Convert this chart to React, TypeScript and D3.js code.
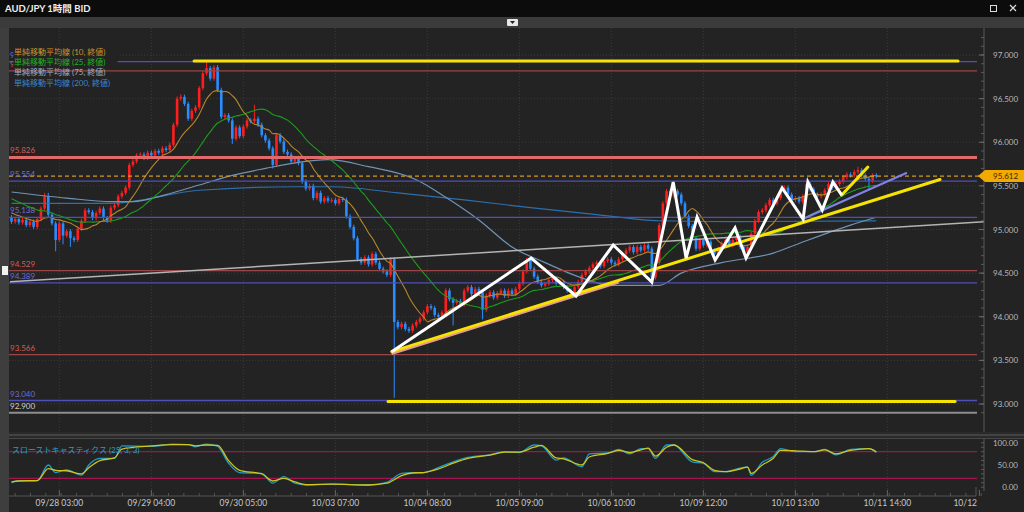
import React from 'react';
import * as d3 from 'd3';

// hourly closes (index 0 = first visible candle)
const closes = [
  95.09, 95.12, 95.08, 95.11, 95.05, 95.09, 95.03, 95.12, 95.24, 95.38,
  95.17, 95.07, 94.88, 95.07, 94.93, 94.98, 94.90, 94.88, 95.01, 95.10,
  95.22, 95.20, 95.13, 95.19, 95.24, 95.13, 95.10, 95.25, 95.28, 95.38,
  95.42, 95.48, 95.74, 95.78, 95.85, 95.86, 95.82, 95.88, 95.85, 95.90,
  95.88, 95.93, 95.91, 95.97, 96.20, 96.50, 96.52, 96.44, 96.27, 96.36,
  96.40, 96.62, 96.79, 96.85, 96.73, 96.86, 96.60, 96.29, 96.31, 96.25,
  96.04, 96.17, 96.07, 96.18, 96.25, 96.24, 96.27, 96.20, 96.08, 96.02,
  95.93, 95.74, 96.08, 96.01, 95.89, 95.86, 95.78, 95.82, 95.76, 95.55,
  95.47, 95.50, 95.36, 95.42, 95.32, 95.36, 95.33, 95.34, 95.30, 95.35,
  95.34, 95.15, 95.03, 94.90, 94.66, 94.62, 94.68, 94.60, 94.72, 94.62,
  94.55, 94.52, 94.48, 94.66, 93.94, 93.88, 93.92, 93.86, 93.84, 93.90,
  93.94, 93.98, 94.05, 94.12, 94.10, 94.02, 94.00, 94.05, 94.30, 94.20,
  94.16, 94.18, 94.14, 94.30, 94.34, 94.26, 94.32, 94.28, 94.08, 94.24,
  94.28, 94.22, 94.27, 94.30, 94.24, 94.30, 94.26, 94.32, 94.38, 94.52,
  94.65, 94.55, 94.46, 94.40, 94.36, 94.38, 94.42, 94.44, 94.38, 94.40,
  94.34, 94.30, 94.28, 94.34, 94.40, 94.48, 94.52, 94.56, 94.60, 94.62,
  94.58, 94.64, 94.66, 94.62, 94.60, 94.66, 94.72, 94.76, 94.80, 94.74,
  94.80, 94.76, 94.82, 94.78, 94.45, 94.62, 95.05, 95.30, 95.44, 95.38,
  95.44, 95.40, 95.30, 95.15, 95.04, 94.90, 94.78, 94.88, 94.82, 94.86,
  94.76, 94.72, 94.78, 94.84, 94.88, 94.82, 94.88, 94.92, 94.80, 94.74,
  94.80, 94.95, 95.10, 95.20, 95.22, 95.28, 95.34, 95.30, 95.36, 95.44,
  95.48, 95.40, 95.34, 95.36, 95.32, 95.38, 95.52, 95.46, 95.40, 95.38,
  95.40, 95.45, 95.52, 95.48, 95.52, 95.55, 95.60, 95.63, 95.62, 95.66,
  95.68, 95.62, 95.58, 95.56, 95.62, 95.612,
];

// estimated closes before the visible range (only used to seed the short averages)
const priorCloses = [
  95.62, 95.58, 95.55, 95.60, 95.52, 95.48, 95.50, 95.44, 95.46, 95.40,
  95.42, 95.36, 95.38, 95.30, 95.34, 95.28, 95.24, 95.26, 95.20, 95.22,
  95.16, 95.18, 95.12, 95.14,
];

// candles with a visibly long wick: [index, price]
const highWicks = [[9, 95.42], [10, 95.42], [46, 96.55], [53, 96.93], [66, 96.43], [230, 95.72]];
const lowWicks = [
  [12, 94.75], [14, 94.83], [16, 94.8], [60, 95.98], [71, 95.7], [104, 93.07],
  [120, 93.9], [128, 93.97], [174, 94.34], [233, 95.45],
];

// long averages read as samples
const sma75Idx = [0, 15, 27, 33, 42, 51, 60, 69, 78, 86, 97, 110, 118, 127, 136, 145, 154, 163, 176, 182, 193, 207, 214, 228, 235];
const sma75Val = [95.43, 95.36, 95.32, 95.32, 95.4, 95.51, 95.62, 95.7, 95.77, 95.8, 95.72, 95.57, 95.37, 95.11, 94.8, 94.62, 94.46, 94.36, 94.36, 94.5, 94.62, 94.73, 94.84, 95.05, 95.14];
const sma200Idx = [0, 27, 51, 78, 87, 105, 123, 141, 159, 176, 198, 235];
const sma200Val = [95.3, 95.3, 95.45, 95.49, 95.49, 95.42, 95.34, 95.25, 95.17, 95.1, 95.09, 95.1];

// slow stochastics (25,3,3)
const stochIdx = [0, 2, 7, 10, 12, 15, 19, 21, 24, 28, 30, 38, 44, 48, 50, 53, 56, 59, 62, 68, 71, 74, 77, 80, 87, 97, 102, 106, 109, 112, 116, 120, 124, 130, 134, 138, 142, 144, 148, 150, 155, 157, 162, 165, 168, 171, 173, 175, 178, 180, 185, 188, 191, 194, 198, 200, 201, 204, 207, 209, 213, 218, 221, 224, 228, 233, 235];
const stochK = [10, 15, 15, 50, 33, 39, 27, 50, 65, 65, 93, 92, 97, 96, 91, 97, 92, 54, 33, 31, 9, 24, 9, 5, 7, 5, 11, 31, 33, 33, 44, 57, 67, 73, 80, 78, 95, 93, 61, 66, 46, 75, 77, 85, 75, 87, 87, 65, 95, 95, 57, 54, 35, 35, 43, 46, 27, 56, 69, 87, 80, 80, 85, 73, 85, 87, 78];
const stochD = [12, 14, 15, 42, 38, 37, 30, 44, 60, 66, 86, 93, 96, 96, 93, 95, 94, 60, 38, 30, 14, 20, 12, 6, 7, 5, 9, 26, 32, 33, 41, 54, 65, 72, 79, 79, 90, 94, 66, 64, 50, 68, 76, 83, 78, 84, 88, 70, 90, 95, 62, 55, 38, 35, 41, 45, 31, 50, 65, 83, 82, 80, 84, 75, 83, 87, 80];
const stochLevels = [80, 20];
const stochTicks = [100, 50, 0];

// horizontal levels
const redLevels = [96.817, 95.826, 94.529, 93.566];
const blueLevels = [96.923, 95.554, 95.138, 94.389, 93.04];
const grayLevels = [92.9];
const resistance = 95.826;
const lastPrice = 95.612;

const priceTicks = [93, 93.5, 94, 94.5, 95, 95.5, 96, 96.5, 97];
const dateIdx = [13, 38, 63, 88, 113, 138, 163, 188, 213, 238, 263];
const dateLabels = ['09/28 03:00', '09/29 04:00', '09/30 05:00', '10/03 07:00', '10/04 08:00', '10/05 09:00', '10/06 10:00', '10/09 12:00', '10/10 13:00', '10/11 14:00', '10/12'];

// hand-drawn trendlines [index, price]
const yellowLines = [
  [[49.6, 96.93], [257.2, 96.93]],
  [[102.3, 93.03], [256.4, 93.03]],
  [[103.3, 93.6], [252.3, 95.573]],
  [[225.6, 95.395], [232.7, 95.716]],
];
const pinkTrend = [[103.3, 93.575], [165, 94.392]];
const purpleTrend = [[215, 95.12], [243.3, 95.65]];
const grayTrend = [[-0.4, 94.4], [264.5, 95.09]];
const zigzag = [
  [103.3, 93.6], [141.2, 94.673], [153.4, 94.238], [163.5, 94.822], [174.0, 94.398],
  [179.8, 95.544], [183.3, 94.673], [186.3, 95.143], [191.2, 94.65], [196.6, 95.017],
  [199.6, 94.673], [209.4, 95.476], [215.1, 95.12], [216.4, 95.544], [220.3, 95.223],
  [223.2, 95.544], [225.6, 95.395],
];

const legendItems = ['単純移動平均線 (10, 終値)', '単純移動平均線 (25, 終値)', '単純移動平均線 (75, 終値)', '単純移動平均線 (200, 終値)'];
const legendColors = ['#c9952a', '#22b422', '#9cb0c8', '#3a86d0'];

const BG = '#232323';
const RED = '#ff1e1e';
const BLUE = '#2a8cff';
const WICK = 0.025;
const FONT = 'Lato, "Noto Sans CJK JP", sans-serif';

function sma(n: number) {
  const all = [...priorCloses, ...closes];
  return closes.map((_, i) => {
    const end = i + priorCloses.length;
    return d3.mean(all.slice(Math.max(0, end - n + 1), end + 1)) as number;
  });
}

export default function App() {
  const x = d3.scaleLinear().domain([0, 264.5]).range([11.5, 984.9]);
  const y = d3.scaleLinear().domain([93, 97]).range([404, 55]);
  const ys = d3.scaleLinear().domain([0, 100]).range([487.2, 442.8]);
  const fmt = d3.format('.3f');

  const pline = d3.line<number[]>().x(d => x(d[0])).y(d => y(d[1]));
  const smooth = d3.line<number[]>().x(d => x(d[0])).y(d => y(d[1])).curve(d3.curveMonotoneX);
  const sline = d3.line<number[]>().x(d => x(d[0])).y(d => ys(d[1])).curve(d3.curveMonotoneX);

  const sma10 = sma(10).map((v, i) => [i, v]);
  const sma25 = sma(25).map((v, i) => [i, v]);
  const sma75 = sma75Idx.map((d, k) => [d, sma75Val[k]]);
  const sma200 = sma200Idx.map((d, k) => [d, sma200Val[k]]);
  const kPts = stochIdx.map((d, k) => [d, stochK[k]]);
  const dPts = stochIdx.map((d, k) => [d, stochD[k]]);

  const highMap = new Map(highWicks.map(d => [d[0], d[1]]));
  const lowMap = new Map(lowWicks.map(d => [d[0], d[1]]));

  const minorPrice = d3.range(929, 973).map(v => v / 10);
  const minorStoch = d3.range(0, 101, 10);
  const minorDates = d3.range(1, 264, 25 / 6);

  const left = 9, right = 984, top = 28, bottom = 432;
  // labels whose line sits under the legend only peek out at the left edge
  const hidden = (p: number) => y(p) < 90;

  return (
    <svg width={1024} height={512} style={{ position: 'fixed', left: 0, top: 0, fontFamily: FONT }}>
      <defs>
        <clipPath id="main"><rect x={left} y={top} width={right - left} height={bottom - top} /></clipPath>
        <clipPath id="stoch"><rect x={left} y={439} width={right - left} height={52} /></clipPath>
        <clipPath id="peek"><rect x={left} y={top} width={4.5} height={80} /></clipPath>
      </defs>

      <rect width={1024} height={512} fill={BG} />
      {/* title bar */}
      <rect width={1024} height={17} fill="#0c0c0c" />
      <text x={5} y={11.5} fill="#f0f0f0" fontSize={9.5} fontWeight="bold">AUD/JPY 1時間 BID</text>
      <rect x={990.5} y={5.5} width={6} height={6} fill="none" stroke="#ddd" />
      <path d="M1010,5 L1016,11 M1016,5 L1010,11" stroke="#ddd" strokeWidth={1.2} />
      <rect y={17} width={1024} height={11} fill="#3b3b3b" />
      <rect x={507} y={19} width={11} height={7} fill="#e8e8e8" rx={1} />
      <path d="M510,21 L515,21 L512.5,24 Z" fill="#222" />
      <rect x={0} y={28} width={left} height={484} fill="#3e3e3e" />
      <rect x={2} y={266} width={6} height={9} fill="#f2f2f2" />

      {/* grid */}
      {priceTicks.map(p => (
        <line key={p} x1={left} x2={right} y1={y(p)} y2={y(p)} stroke="#3a3a3a" strokeDasharray="1,2" />
      ))}
      {dateIdx.slice(0, 10).map(d => (
        <g key={d}>
          <line x1={x(d)} x2={x(d)} y1={top} y2={bottom} stroke="#3a3a3a" strokeDasharray="1,2" />
          <line x1={x(d)} x2={x(d)} y1={440} y2={490} stroke="#3a3a3a" strokeDasharray="1,2" />
        </g>
      ))}

      <g clipPath="url(#main)">
        {/* candles */}
        {closes.map((c, i) => {
          const o = i === 0 ? priorCloses[priorCloses.length - 1] : closes[i - 1];
          const col = c >= o ? RED : BLUE;
          const hi = highMap.get(i) ?? Math.max(o, c) + WICK;
          const lo = lowMap.get(i) ?? Math.min(o, c) - WICK;
          const t = y(Math.max(o, c));
          const b = y(Math.min(o, c));
          const cx = x(i);
          return (
            <g key={i}>
              <line x1={cx} x2={cx} y1={y(hi)} y2={y(lo)} stroke={col} strokeWidth={1} />
              <rect x={cx - 1.3} y={t} width={2.6} height={Math.max(1, b - t)} fill={col} />
            </g>
          );
        })}

        {/* moving averages */}
        <path d={smooth(sma200) || ''} fill="none" stroke="#2d6fae" strokeWidth={1.2} />
        <path d={smooth(sma75) || ''} fill="none" stroke="#7093b5" strokeWidth={1.2} />
        <path d={smooth(sma25) || ''} fill="none" stroke="#1c9c1c" strokeWidth={1.1} />
        <path d={smooth(sma10) || ''} fill="none" stroke="#b5862c" strokeWidth={1.1} />

        {/* levels */}
        {redLevels.map(p => (
          <line key={p} x1={left} x2={977} y1={y(p)} y2={y(p)}
            stroke={p === resistance ? '#e06a6a' : '#9a4646'} strokeWidth={p === resistance ? 3 : 1.3} />
        ))}
        {blueLevels.map(p => (
          <line key={p} x1={left} x2={977} y1={y(p)} y2={y(p)} stroke="#4f4fb8" strokeWidth={1.3} />
        ))}
        {grayLevels.map(p => (
          <line key={p} x1={left} x2={977} y1={y(p)} y2={y(p)} stroke="#8e8e8e" strokeWidth={2} />
        ))}
        <line x1={left} x2={980} y1={y(lastPrice)} y2={y(lastPrice)} stroke="#d39a22" strokeWidth={1.2} strokeDasharray="4,3" />

        {/* trendlines */}
        <path d={pline(grayTrend) || ''} stroke="#b4b4b4" strokeWidth={1.5} fill="none" />
        <path d={pline(purpleTrend) || ''} stroke="#8282e6" strokeWidth={2} fill="none" />
        <path d={pline(pinkTrend) || ''} stroke="#e89a9a" strokeWidth={2.2} fill="none" />
        {yellowLines.map((l, k) => (
          <path key={k} d={pline(l) || ''} stroke="#f7e300" strokeWidth={3} fill="none" strokeLinecap="round" />
        ))}
        <path d={pline(zigzag) || ''} stroke="#ffffff" strokeWidth={3} fill="none" strokeLinejoin="miter" />
      </g>

      {/* level labels */}
      {redLevels.map(p => (
        <text key={p} x={10} y={y(p) - 4} fill="#d25c5c" fontSize={8}
          clipPath={hidden(p) ? 'url(#peek)' : undefined}>{fmt(p)}</text>
      ))}
      {blueLevels.map(p => (
        <text key={p} x={10} y={y(p) - 4} fill="#6c6cdc" fontSize={8}
          clipPath={hidden(p) ? 'url(#peek)' : undefined}>{fmt(p)}</text>
      ))}
      {grayLevels.map(p => (
        <text key={p} x={10} y={y(p) - 4} fill="#d0d0d0" fontSize={8}>{fmt(p)}</text>
      ))}

      {/* legend */}
      <rect x={13.5} y={46} width={104} height={20} fill={BG} />
      {legendItems.map((t, k) => (
        <text key={t} x={14} y={54.5 + k * 10.4} fill={legendColors[k]} fontSize={8}>{t}</text>
      ))}

      {/* price axis */}
      <line x1={right} x2={right} y1={top} y2={bottom} stroke="#5a5a5a" />
      {minorPrice.map(p => (
        <line key={p} x1={right - 3} x2={right} y1={y(p)} y2={y(p)} stroke="#5a5a5a" />
      ))}
      {priceTicks.map(p => (
        <g key={p}>
          <line x1={right - 5} x2={right} y1={y(p)} y2={y(p)} stroke="#6a6a6a" />
          <text x={993} y={y(p) + 3} fill="#b8b8b8" fontSize={8}>{fmt(p)}</text>
        </g>
      ))}
      <path d={`M978,${y(lastPrice)} L985,${y(lastPrice) - 6} L1024,${y(lastPrice) - 6} L1024,${y(lastPrice) + 6} L985,${y(lastPrice) + 6} Z`} fill="#f2a900" />
      <text x={993} y={y(lastPrice) + 3} fill="#3a2800" fontSize={8}>{fmt(lastPrice)}</text>

      {/* panel separator */}
      <rect x={left} y={432} width={1024 - left} height={7} fill="#2a2a2a" />
      <line x1={left} x2={1024} y1={435} y2={435} stroke="#5c5c5c" />
      <line x1={left} x2={1024} y1={438.5} y2={438.5} stroke="#474747" />

      {/* stochastics */}
      {stochLevels.map(v => (
        <line key={v} x1={left} x2={977} y1={ys(v)} y2={ys(v)} stroke="#a3134e" strokeWidth={1.2} />
      ))}
      <g clipPath="url(#stoch)">
        <path d={sline(kPts) || ''} fill="none" stroke="#1c9cc6" strokeWidth={1.3} />
        <path d={sline(dPts) || ''} fill="none" stroke="#cfc51c" strokeWidth={1.3} />
      </g>
      <text x={12} y={453} fill="#2a9cc4" fontSize={8}>スローストキャスティクス (25, 3, 3)</text>
      <line x1={right} x2={right} y1={439} y2={491} stroke="#5a5a5a" />
      {minorStoch.map(v => (
        <line key={v} x1={right - 3} x2={right} y1={ys(v)} y2={ys(v)} stroke="#5a5a5a" />
      ))}
      {stochTicks.map(v => (
        <text key={v} x={1018} y={ys(v) + 3} fill="#b8b8b8" fontSize={8} textAnchor="end">{v.toFixed(2)}</text>
      ))}

      {/* time axis */}
      <line x1={left} x2={976} y1={496} y2={496} stroke="#555" />
      <line x1={976} x2={976} y1={487} y2={496} stroke="#555" />
      {minorDates.map(d => (
        <line key={d} x1={x(d)} x2={x(d)} y1={493} y2={496} stroke="#555" />
      ))}
      {dateIdx.map((d, k) => {
        const last = x(d) > 960;
        return (
          <g key={d}>
            <line x1={x(d)} x2={x(d)} y1={490} y2={496} stroke="#666" />
            <text x={last ? 977 : x(d)} y={506} fill="#c8c8c8" fontSize={8.5} textAnchor={last ? 'end' : 'middle'}>{dateLabels[k]}</text>
          </g>
        );
      })}
    </svg>
  );
}
